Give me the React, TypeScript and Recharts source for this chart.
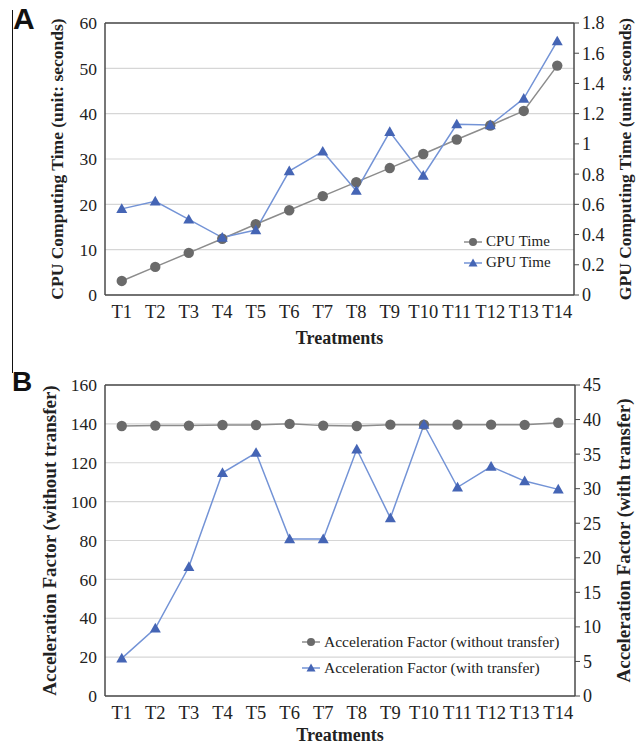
import { LineChart, Line, XAxis, YAxis, CartesianGrid, Legend, ReferenceLine } from 'recharts';

const treatments = ['T1', 'T2', 'T3', 'T4', 'T5', 'T6', 'T7', 'T8', 'T9', 'T10', 'T11', 'T12', 'T13', 'T14'];

// Panel A
const cpuTime = [3.1, 6.2, 9.3, 12.4, 15.6, 18.7, 21.8, 24.9, 28.0, 31.1, 34.3, 37.4, 40.6, 50.6];
const gpuTime = [0.57, 0.62, 0.5, 0.38, 0.43, 0.82, 0.95, 0.69, 1.08, 0.79, 1.13, 1.125, 1.3, 1.68];
const cpuTicks = [0, 10, 20, 30, 40, 50, 60];
const gpuTicks = [0, 0.2, 0.4, 0.6, 0.8, 1, 1.2, 1.4, 1.6, 1.8];

// Panel B
const accelNoTransfer = [138.9, 139.1, 139.1, 139.4, 139.4, 140.0, 139.1, 138.9, 139.6, 139.6, 139.6, 139.6, 139.5, 140.6];
const accelWithTransfer = [5.45, 9.8, 18.7, 32.3, 35.2, 22.7, 22.7, 35.7, 25.75, 39.25, 30.2, 33.2, 31.1, 29.9];
const noTransferTicks = [0, 20, 40, 60, 80, 100, 120, 140, 160];
const withTransferTicks = [0, 5, 10, 15, 20, 25, 30, 35, 40, 45];

const dataA = treatments.map((t, i) => ({ name: t, cpu: cpuTime[i], gpu: gpuTime[i] }));
const dataB = treatments.map((t, i) => ({ name: t, noTransfer: accelNoTransfer[i], withTransfer: accelWithTransfer[i] }));

const SERIF = '"Liberation Serif", "Times New Roman", serif';
const GRAY_LINE = '#8c8c8c';
const GRAY_DOT = '#6a6a6a';
const BLUE_LINE = '#7393d6';
const BLUE_DOT = '#4565b5';
const AXIS = '#4a4a4a';

const CircleDot = (props: any) => {
    const { cx, cy } = props;
    if (cx == null || cy == null) return null;
    return <circle cx={cx} cy={cy} r={5.2} fill={GRAY_DOT} />;
};

const TriangleDot = (props: any) => {
    const { cx, cy } = props;
    if (cx == null || cy == null) return null;
    const s = 5.5;
    return <path d={`M${cx},${cy - s} L${cx + s},${cy + s * 0.75} L${cx - s},${cy + s * 0.75} Z`} fill={BLUE_DOT} />;
};

const LegendContent = ({ items, fontSize, gap }: { items: { label: string; kind: 'circle' | 'triangle' }[]; fontSize: number; gap: number }) => (
    <div style={{ fontFamily: SERIF, fontSize, color: '#222' }}>
        {items.map((it) => (
            <div key={it.label} style={{ display: 'flex', alignItems: 'center', height: gap, whiteSpace: 'nowrap' }}>
                <svg width={18} height={12} style={{ marginRight: 4 }}>
                    <line x1={0} y1={6} x2={18} y2={6} stroke={it.kind === 'circle' ? GRAY_LINE : BLUE_LINE} strokeWidth={1.5} />
                    {it.kind === 'circle' ? (
                        <circle cx={9} cy={6} r={4} fill={GRAY_DOT} />
                    ) : (
                        <path d="M9,1.5 L13.5,9.5 L4.5,9.5 Z" fill={BLUE_DOT} />
                    )}
                </svg>
                <span>{it.label}</span>
            </div>
        ))}
    </div>
);

const xTickStyle = { fontFamily: SERIF, fontSize: 18.5, fill: '#222' };
const leftTickStyle = { fontFamily: SERIF, fontSize: 17.5, fill: '#222' };
const rightTickStyle = { fontFamily: SERIF, fontSize: 18, fill: '#222' };
const titleA = { fontFamily: SERIF, fontSize: 17.5, fontWeight: 700, fill: '#222' };
const titleB = { fontFamily: SERIF, fontSize: 19, fontWeight: 700, fill: '#222' };
const xTitle = { fontFamily: SERIF, fontSize: 18, fontWeight: 700, fill: '#222' };

export default function App() {
    return (
        <div style={{ position: 'absolute', left: 0, top: 0, width: 643, height: 746, background: '#fff' }}>
            {/* panel frame line and letters */}
            <div style={{ position: 'absolute', left: 12, top: 10, width: 0, height: 363, borderLeft: '1.5px solid #111' }} />
            <div style={{ position: 'absolute', left: 13, top: 2, fontFamily: '"Liberation Sans", Arial, sans-serif', fontWeight: 700, fontSize: 30, color: '#111' }}>A</div>
            <div style={{ position: 'absolute', left: 12, top: 366, fontFamily: '"Liberation Sans", Arial, sans-serif', fontWeight: 700, fontSize: 28, color: '#111' }}>B</div>

            <div style={{ position: 'absolute', left: 0, top: 0 }}>
                <LineChart width={643} height={360} data={dataA} margin={{ top: 23, right: 0, bottom: 0, left: 0 }}>
                    <CartesianGrid yAxisId="left" vertical={false} stroke="#d6d6d6" strokeWidth={1.2} />
                    <XAxis
                        dataKey="name"
                        interval={0}
                        height={65}
                        padding={{ left: 16.75, right: 16.75 }}
                        tickLine={false}
                        tickSize={0}
                        tickMargin={10}
                        axisLine={{ stroke: AXIS, strokeWidth: 1.5 }}
                        tick={xTickStyle}
                        label={{ value: 'Treatments', position: 'insideBottom', offset: 16, style: xTitle }}
                    />
                    <YAxis
                        yAxisId="left"
                        width={105}
                        domain={[0, 60]}
                        ticks={cpuTicks}
                        interval={0}
                        tickLine={false}
                        tickSize={0}
                        tickMargin={8}
                        axisLine={{ stroke: AXIS, strokeWidth: 1.5 }}
                        tick={leftTickStyle}
                        label={{ value: 'CPU Computing Time (unit: seconds)', angle: -90, position: 'center', dx: 4, style: titleA }}
                    />
                    <YAxis
                        yAxisId="right"
                        orientation="right"
                        width={69}
                        domain={[0, 1.8]}
                        ticks={gpuTicks}
                        interval={0}
                        tickSize={5}
                        tickMargin={3}
                        tickLine={{ stroke: AXIS }}
                        axisLine={{ stroke: AXIS, strokeWidth: 1.5 }}
                        tick={rightTickStyle}
                        label={{ value: 'GPU Computing Time (unit: seconds)', angle: -90, position: 'center', dx: 16, style: titleA }}
                    />
                    <ReferenceLine yAxisId="left" y={60} stroke={AXIS} strokeWidth={1.5} />
                    <Line yAxisId="left" dataKey="cpu" stroke={GRAY_LINE} strokeWidth={1.5} dot={<CircleDot />} activeDot={false} isAnimationActive={false} />
                    <Line yAxisId="right" dataKey="gpu" stroke={BLUE_LINE} strokeWidth={1.5} dot={<TriangleDot />} activeDot={false} isAnimationActive={false} />
                    <Legend
                        layout="vertical"
                        verticalAlign="middle"
                        align="center"
                        wrapperStyle={{ left: 464, top: 231, width: 110 }}
                        content={() => (
                            <LegendContent
                                fontSize={15}
                                gap={21}
                                items={[
                                    { label: 'CPU Time', kind: 'circle' },
                                    { label: 'GPU Time', kind: 'triangle' },
                                ]}
                            />
                        )}
                    />
                </LineChart>
            </div>

            <div style={{ position: 'absolute', left: 0, top: 360 }}>
                <LineChart width={643} height={386} data={dataB} margin={{ top: 25, right: 0, bottom: 0, left: 0 }}>
                    <CartesianGrid yAxisId="left" vertical={false} stroke="#d6d6d6" strokeWidth={1.2} />
                    <XAxis
                        dataKey="name"
                        interval={0}
                        height={50}
                        padding={{ left: 16.75, right: 16.75 }}
                        tickLine={false}
                        tickSize={0}
                        tickMargin={10}
                        axisLine={{ stroke: AXIS, strokeWidth: 1.5 }}
                        tick={xTickStyle}
                        label={{ value: 'Treatments', position: 'insideBottom', offset: 5, style: xTitle }}
                    />
                    <YAxis
                        yAxisId="left"
                        width={105}
                        domain={[0, 160]}
                        ticks={noTransferTicks}
                        interval={0}
                        tickLine={false}
                        tickSize={0}
                        tickMargin={8}
                        axisLine={{ stroke: AXIS, strokeWidth: 1.5 }}
                        tick={leftTickStyle}
                        label={{ value: 'Acceleration Factor (without transfer)', angle: -90, position: 'center', dx: -3, style: titleB }}
                    />
                    <YAxis
                        yAxisId="right"
                        orientation="right"
                        width={68}
                        domain={[0, 45]}
                        ticks={withTransferTicks}
                        interval={0}
                        tickSize={5}
                        tickMargin={3}
                        tickLine={{ stroke: AXIS }}
                        axisLine={{ stroke: AXIS, strokeWidth: 1.5 }}
                        tick={rightTickStyle}
                        label={{ value: 'Acceleration Factor (with transfer)', angle: -90, position: 'center', dx: 14, style: titleB }}
                    />
                    <ReferenceLine yAxisId="left" y={160} stroke={AXIS} strokeWidth={1.5} />
                    <Line yAxisId="left" dataKey="noTransfer" stroke={GRAY_LINE} strokeWidth={1.5} dot={<CircleDot />} activeDot={false} isAnimationActive={false} />
                    <Line yAxisId="right" dataKey="withTransfer" stroke={BLUE_LINE} strokeWidth={1.5} dot={<TriangleDot />} activeDot={false} isAnimationActive={false} />
                    <Legend
                        layout="vertical"
                        verticalAlign="middle"
                        align="center"
                        wrapperStyle={{ left: 302, top: 269, width: 270 }}
                        content={() => (
                            <LegendContent
                                fontSize={15.5}
                                gap={26}
                                items={[
                                    { label: 'Acceleration Factor (without transfer)', kind: 'circle' },
                                    { label: 'Acceleration Factor (with transfer)', kind: 'triangle' },
                                ]}
                            />
                        )}
                    />
                </LineChart>
            </div>
        </div>
    );
}
